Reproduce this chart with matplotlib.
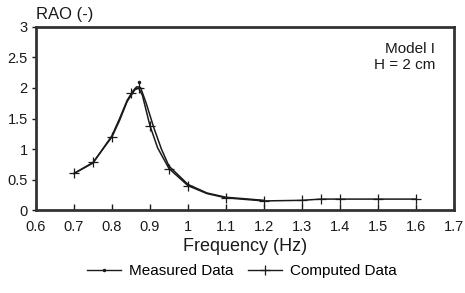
import matplotlib.pyplot as plt
from matplotlib.lines import Line2D

plt.rcParams['font.family'] = ['Liberation Sans', 'DejaVu Sans']

# computed curve (+ markers)
freq_c = [0.7, 0.75, 0.8, 0.82, 0.84, 0.86, 0.87, 0.88, 0.9, 0.92, 0.95, 1.0, 1.05, 1.1, 1.2, 1.3, 1.35, 1.4, 1.5, 1.6]
rao_c = [0.6, 0.78, 1.2, 1.47, 1.78, 1.97, 2.0, 1.88, 1.38, 1.02, 0.68, 0.4, 0.27, 0.2, 0.15, 0.16, 0.18, 0.18, 0.18, 0.18]
freq_c_pts = [0.7, 0.75, 0.8, 0.85, 0.87, 0.9, 0.95, 1.0, 1.1, 1.2, 1.3, 1.35, 1.4, 1.5, 1.6]
rao_c_pts = [0.6, 0.78, 1.2, 1.92, 2.0, 1.38, 0.68, 0.4, 0.2, 0.15, 0.16, 0.18, 0.18, 0.18, 0.18]

# measured curve (dot markers)
freq_m = [0.7, 0.75, 0.8, 0.82, 0.84, 0.855, 0.865, 0.875, 0.89, 0.91, 0.93, 0.95, 1.0, 1.05, 1.1, 1.2]
rao_m = [0.6, 0.77, 1.22, 1.5, 1.8, 1.95, 2.02, 2.01, 1.75, 1.35, 1.0, 0.72, 0.42, 0.28, 0.21, 0.16]
freq_m_pts = [0.87]
rao_m_pts = [2.1]

xticks = [0.6, 0.7, 0.8, 0.9, 1.0, 1.1, 1.2, 1.3, 1.4, 1.5, 1.6, 1.7]
xlabels = ['0.6', '0.7', '0.8', '0.9', '1', '1.1', '1.2', '1.3', '1.4', '1.5', '1.6', '1.7']
yticks = [0, 0.5, 1, 1.5, 2, 2.5, 3]
ylabels = ['0', '0.5', '1', '1.5', '2', '2.5', '3']

ink = '#1a1a1a'
fig = plt.figure(figsize=(4.65, 2.93), dpi=100)
ax = fig.add_axes([0.0774, 0.283, 0.899, 0.625])

ax.plot(freq_m, rao_m, color=ink, lw=1.1)
ax.plot(freq_m_pts, rao_m_pts, ls='none', marker='.', ms=3, color=ink)
ax.plot(freq_c, rao_c, color=ink, lw=1.1)
ax.plot(freq_c_pts, rao_c_pts, ls='none', marker='+', ms=7, mew=0.9, color=ink)

ax.set_xlim(0.6, 1.7)
ax.set_ylim(0, 3)
ax.set_xticks(xticks)
ax.set_xticklabels(xlabels)
ax.set_yticks(yticks)
ax.set_yticklabels(ylabels)
ax.tick_params(axis='x', direction='in', length=4, width=1, labelsize=10.5, colors=ink, pad=7)
ax.tick_params(axis='y', direction='out', length=3, width=1, labelsize=10.5, colors=ink, pad=3)
for s in ax.spines.values():
    s.set_linewidth(2)
    s.set_color('#333333')

fig.text(0.077, 0.925, 'RAO (-)', fontsize=12, color=ink, ha='left', va='bottom')
ax.text(0.955, 0.92, 'Model I\nH = 2 cm', transform=ax.transAxes, ha='right', va='top',
        fontsize=11, color=ink, linespacing=1.2)
ax.set_xlabel('Frequency (Hz)', fontsize=13, color=ink, labelpad=3)

handles = [Line2D([], [], color=ink, lw=1, marker='.', ms=3),
           Line2D([], [], color=ink, lw=1, marker='+', ms=7, mew=0.9)]
fig.legend(handles, ['Measured Data', 'Computed Data'], loc='center', bbox_to_anchor=(0.52, 0.075),
           ncol=2, frameon=False, fontsize=11, handlelength=2.2, handletextpad=0.5, columnspacing=1.0)

fig.savefig('out.png', dpi=100)
